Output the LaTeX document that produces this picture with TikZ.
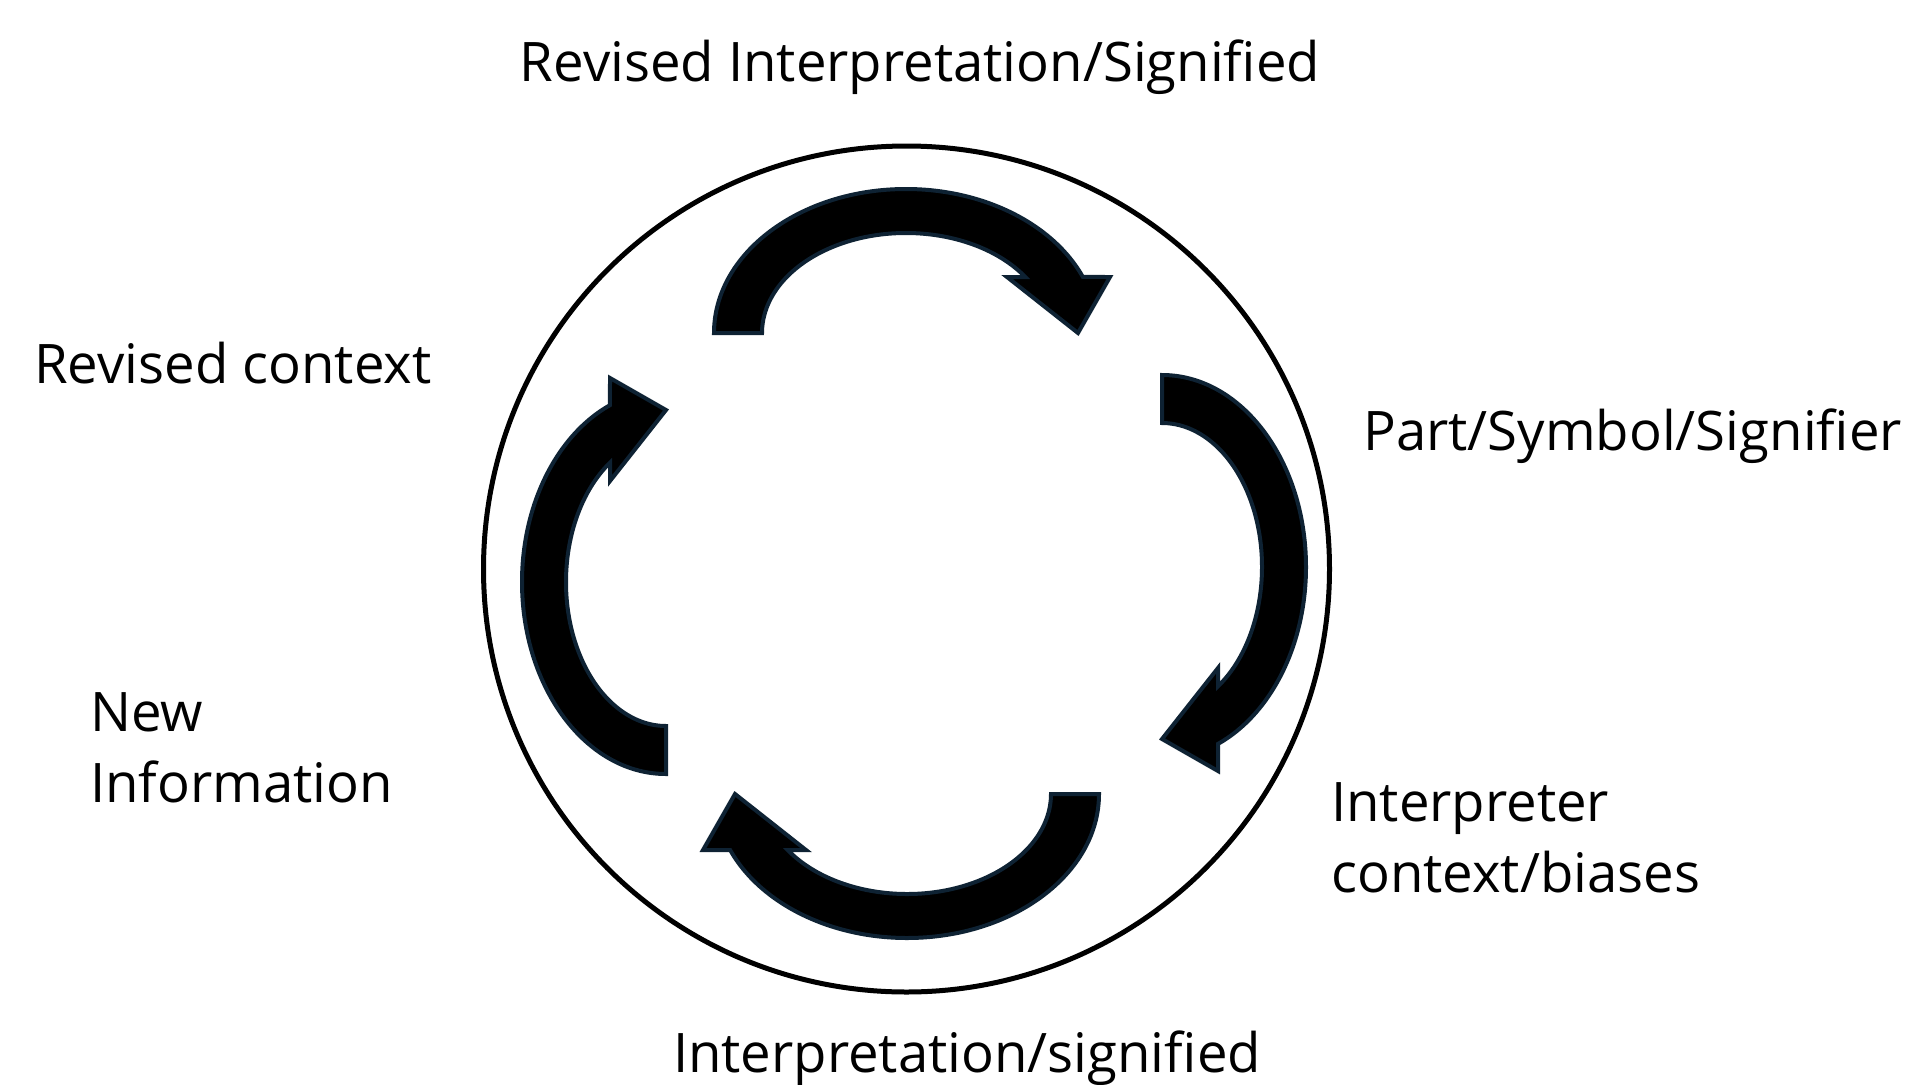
\documentclass[tikz,border=0pt]{standalone}
\usepackage{fontspec}
\setmainfont{Open Sans}
\usepackage{tikz}
\definecolor{arrowedge}{RGB}{14,34,51}
\newcommand{\setup}{
    \coordinate (c)  at (906.5,-569);

    \coordinate (a0) at (906,-333);
    \coordinate (a1) at (1162,-567);
    \coordinate (a2) at (907,-794);
    \coordinate (a3) at (666,-582);
}
\newcommand{\cyclearrow}[2]{
    \begin{scope}[shift={(#1)},rotate=#2]
    \filldraw[line width=4bp,draw=arrowedge,fill=black,line join=miter]
        (-192,0) arc[start angle=180,end angle=22.9,x radius=192,y radius=144]
        -- (204,56) -- (172,0) -- (101,56) -- (119.3,56)
        arc[start angle=34.06,end angle=180,x radius=144,y radius=100]
        -- cycle;
    \end{scope}
}
\tikzset{
    label text/.style={font=\fontsize{54.5bp}{71bp}\selectfont,inner sep=0pt,align=left}
}
\begin{document}
\begin{tikzpicture}[x=1bp,y=1bp]
    \useasboundingbox (0,0) rectangle (1908,-1084);
    \setup;

    \draw[line width=5bp] (c) circle[radius=423]; % outer ring

    \cyclearrow{a0}{0};
    \cyclearrow{a1}{-90};
    \cyclearrow{a2}{180};
    \cyclearrow{a3}{90};

    % multi-line labels sit on their last baseline
    \node[label text,anchor=base]      (top)    at (920,-81)   {Revised Interpretation/Signified};
    \node[label text,anchor=base west] (rctx)   at (34,-383)   {Revised context};
    \node[label text,anchor=base west] (part)   at (1363,-450) {Part/Symbol/Signifier};
    \node[label text,anchor=base west] (newinf) at (90,-802)   {New\\Information};
    \node[label text,anchor=base west] (interp) at (1331,-892) {Interpreter\\context/biases};
    \node[label text,anchor=base]      (bottom) at (967,-1072) {Interpretation/signified};
\end{tikzpicture}
\end{document}
